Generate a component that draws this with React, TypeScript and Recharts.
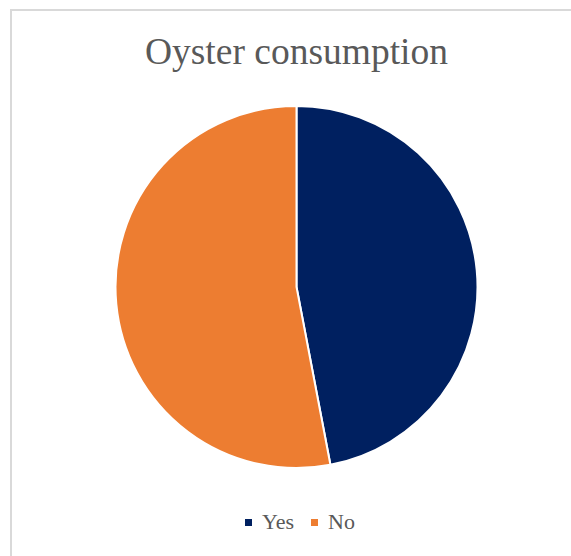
import { PieChart, Pie, Cell } from 'recharts';

const categories = ['Yes', 'No'];
const shares = [47, 53];
const colors = ['#002060', '#ED7D31'];

const data = categories.map((name, i) => ({ name, value: shares[i] }));

const serif = '"Liberation Serif", "Times New Roman", serif';

export default function App() {
    return (
        <div style={{ position: 'absolute', left: 0, top: 0, width: 571, height: 556, background: '#fff', overflow: 'hidden' }}>
            <div
                style={{
                    position: 'absolute',
                    left: 10,
                    top: 9,
                    width: 600,
                    height: 600,
                    border: '2px solid #d9d9d9',
                    boxSizing: 'border-box',
                }}
            />
            <div
                style={{
                    position: 'absolute',
                    left: 0,
                    width: 593,
                    top: 28,
                    textAlign: 'center',
                    fontFamily: serif,
                    fontSize: 37.5,
                    color: '#595959',
                    lineHeight: '48px',
                }}
            >
                Oyster consumption
            </div>
            <div style={{ position: 'absolute', left: 0, top: 0 }}>
                <PieChart width={571} height={556} margin={{ top: 0, right: 0, bottom: 0, left: 0 }}>
                    <Pie
                        data={data}
                        dataKey="value"
                        nameKey="name"
                        cx={296.5}
                        cy={287}
                        outerRadius={181}
                        startAngle={90}
                        endAngle={-270}
                        stroke="#fff"
                        strokeWidth={2}
                        isAnimationActive={false}
                    >
                        {data.map((entry, index) => (
                            <Cell key={`cell-${index}`} fill={colors[index]} />
                        ))}
                    </Pie>
                </PieChart>
            </div>
            {/* legend row under the pie */}
            <div
                style={{
                    position: 'absolute',
                    left: 0,
                    width: 600,
                    top: 508,
                    display: 'flex',
                    justifyContent: 'center',
                    gap: 17,
                    fontFamily: serif,
                    fontSize: 22,
                    color: '#595959',
                    lineHeight: '28px',
                }}
            >
                {data.map((d, i) => (
                    <div key={d.name} style={{ display: 'flex', alignItems: 'center' }}>
                        <span style={{ width: 7, height: 7, background: colors[i], marginRight: 10, display: 'inline-block' }} />
                        <span>{d.name}</span>
                    </div>
                ))}
            </div>
        </div>
    );
}
